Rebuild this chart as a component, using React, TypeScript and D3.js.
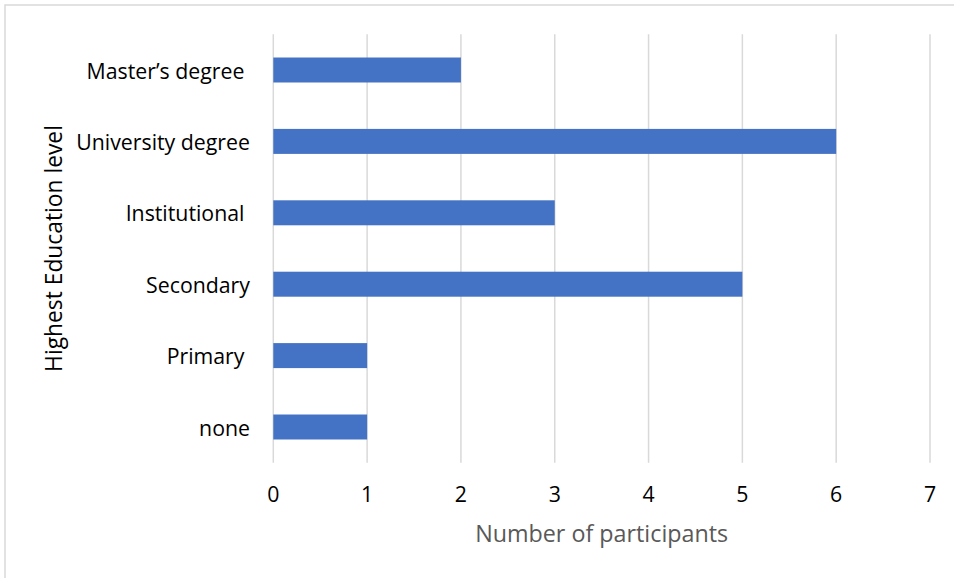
import React from "react";
import * as d3 from "d3";

// Education levels, listed top to bottom as they appear on the chart
const categories = [
  "Master’s degree ",
  "University degree",
  "Institutional ",
  "Secondary",
  "Primary ",
  "none",
];
const participants = [2, 6, 3, 5, 1, 1];
const xTicks = [0, 1, 2, 3, 4, 5, 6, 7];

const W = 954;
const H = 578;
const FONT = "'Open Sans', 'Noto Sans', sans-serif";

export default function App() {
  const x = d3.scaleLinear().domain([0, 7]).range([273.3, 930]);
  const y = d3
    .scaleBand<string>()
    .domain(categories)
    .range([34.3, 462.7])
    .paddingInner(0.65)
    .paddingOuter(0.325);

  const [y0, y1] = y.range();

  return (
    <svg
      width={W}
      height={H}
      style={{ position: "absolute", left: 0, top: 0, background: "#fff" }}
    >
      {/* chart frame */}
      <rect
        x={5}
        y={5}
        width={1000}
        height={700}
        fill="#fff"
        stroke="#d9d9d9"
        strokeWidth={1.5}
      />

      {/* vertical gridlines */}
      {xTicks.map((t) => (
        <line
          key={`g${t}`}
          x1={x(t)}
          x2={x(t)}
          y1={y0}
          y2={y1}
          stroke="#d9d9d9"
          strokeWidth={1.5}
        />
      ))}

      {/* bars */}
      {categories.map((c, i) => (
        <rect
          key={c}
          x={x(0)}
          y={y(c)}
          width={x(participants[i]) - x(0)}
          height={y.bandwidth()}
          fill="#4472c4"
        />
      ))}

      {/* category labels */}
      {categories.map((c) => (
        <text
          key={`l${c}`}
          x={250}
          y={(y(c) ?? 0) + y.bandwidth() / 2}
          textAnchor="end"
          dominantBaseline="central"
          fontFamily={FONT}
          fontSize={21.3}
          fill="#000"
          style={{ whiteSpace: "pre" }}
        >
          {c}
        </text>
      ))}

      {/* x tick labels */}
      {xTicks.map((t) => (
        <text
          key={`t${t}`}
          x={x(t)}
          y={493}
          textAnchor="middle"
          dominantBaseline="central"
          fontFamily={FONT}
          fontSize={21.3}
          fill="#000"
        >
          {t}
        </text>
      ))}

      {/* axis titles */}
      <text
        x={(x(0) + x(7)) / 2}
        y={533}
        textAnchor="middle"
        dominantBaseline="central"
        fontFamily={FONT}
        fontSize={23.3}
        fill="#595959"
      >
        Number of participants
      </text>
      <text
        transform={`translate(62,${(y0 + y1) / 2}) rotate(-90)`}
        textAnchor="middle"
        fontFamily={FONT}
        fontSize={22.8}
        fill="#000"
      >
        Highest Education level
      </text>
    </svg>
  );
}
